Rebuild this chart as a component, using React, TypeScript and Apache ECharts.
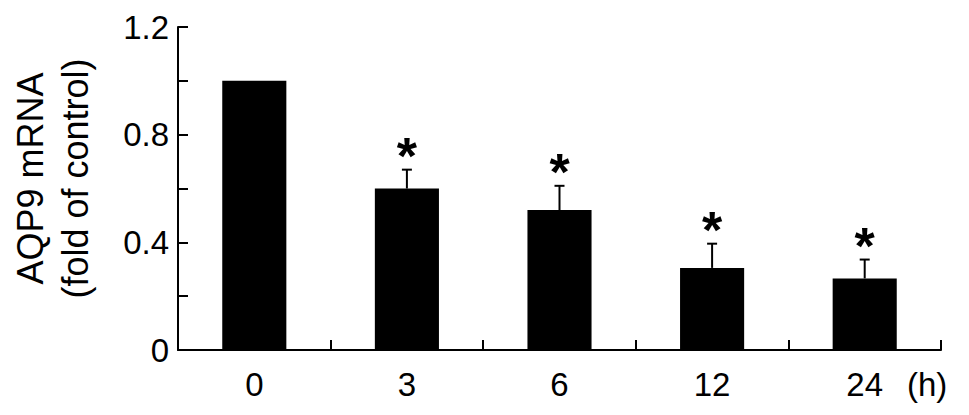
import React, { useEffect, useRef } from "react";
import * as echarts from "echarts";

const categories = ["0", "3", "6", "12", "24"];
const meanValues = [1.0, 0.6, 0.52, 0.305, 0.266];
const errorValues = [0, 0.07, 0.09, 0.09, 0.07];
const significance = ["", "*", "*", "*", "*"];
const yTickLabels = ["0", "0.4", "0.8", "1.2"];

const FONT = '"Liberation Sans", Arial, sans-serif';

export default function App() {
  const ref = useRef<HTMLDivElement>(null);
  useEffect(() => {
    document.body.style.margin = "0";
    const chart = echarts.init(ref.current!, null, { renderer: "svg" });
    const option = {
      animation: false,
      backgroundColor: "#ffffff",
      grid: { left: 174, right: 28, top: 27, bottom: 65, containLabel: false },
      xAxis: {
        type: "category",
        data: categories,
        name: "(h)",
        nameLocation: "end",
        nameGap: -34,
        nameTextStyle: {
          fontSize: 33,
          fontFamily: FONT,
          color: "#000",
          verticalAlign: "top",
          align: "left",
          padding: [18, 0, 0, 0],
        },
        axisLine: { lineStyle: { color: "#000", width: 2 } },
        axisTick: { show: true, inside: true, length: 10, alignWithLabel: false, lineStyle: { color: "#000", width: 2 } },
        axisLabel: { fontSize: 33, fontFamily: FONT, color: "#000", margin: 18, interval: 0 },
        splitLine: { show: false },
      },
      yAxis: {
        type: "value",
        min: 0,
        max: 1.2,
        interval: 0.2,
        name: "AQP9 mRNA\n(fold of control)",
        nameLocation: "middle",
        nameRotate: 90,
        nameGap: 80,
        nameTextStyle: { fontSize: 36, fontFamily: FONT, color: "#000", lineHeight: 45, padding: [0, 0, 0, 20] },
        axisLine: { show: true, lineStyle: { color: "#000", width: 2 } },
        axisTick: { show: true, inside: true, length: 10, lineStyle: { color: "#000", width: 2 } },
        axisLabel: {
          fontSize: 33,
          fontFamily: FONT,
          color: "#000",
          margin: 9,
          formatter: (v: number) => {
            const r = Math.round(v * 10) / 10;
            const s = r === 0 ? "0" : r.toFixed(1);
            return yTickLabels.includes(s) ? s : "";
          },
        },
        splitLine: { show: false },
      },
      series: [
        {
          type: "bar",
          data: meanValues,
          barWidth: "42%",
          itemStyle: { color: "#000" },
          z: 2,
        },
        {
          type: "custom",
          z: 3,
          data: categories.map((c, i) => [i, meanValues[i], errorValues[i], i]),
          renderItem: (params: any, api: any) => {
            const idx = api.value(0);
            const v = api.value(1);
            const e = api.value(2);
            const k = api.value(3);
            const base = api.coord([idx, v]);
            const top = api.coord([idx, v + e]);
            const children: any[] = [];
            if (e > 0) {
              children.push({
                type: "line",
                shape: { x1: base[0], y1: base[1], x2: top[0], y2: top[1] },
                style: { stroke: "#000", lineWidth: 2 },
              });
              children.push({
                type: "line",
                shape: { x1: top[0] - 5, y1: top[1], x2: top[0] + 5, y2: top[1] },
                style: { stroke: "#000", lineWidth: 2 },
              });
            }
            const mark = significance[k];
            if (mark) {
              children.push({
                type: "text",
                x: top[0],
                y: top[1] - 14,
                style: {
                  text: mark,
                  fontSize: 52,
                  fontWeight: "bold",
                  fontFamily: FONT,
                  fill: "#000",
                  align: "center",
                  verticalAlign: "middle",
                },
              });
            }
            return { type: "group", children };
          },
        },
      ],
    };
    chart.setOption(option as any);
    return () => chart.dispose();
  }, []);
  return <div ref={ref} style={{ width: 969, height: 415, position: "absolute", left: 0, top: 0 }} />;
}
